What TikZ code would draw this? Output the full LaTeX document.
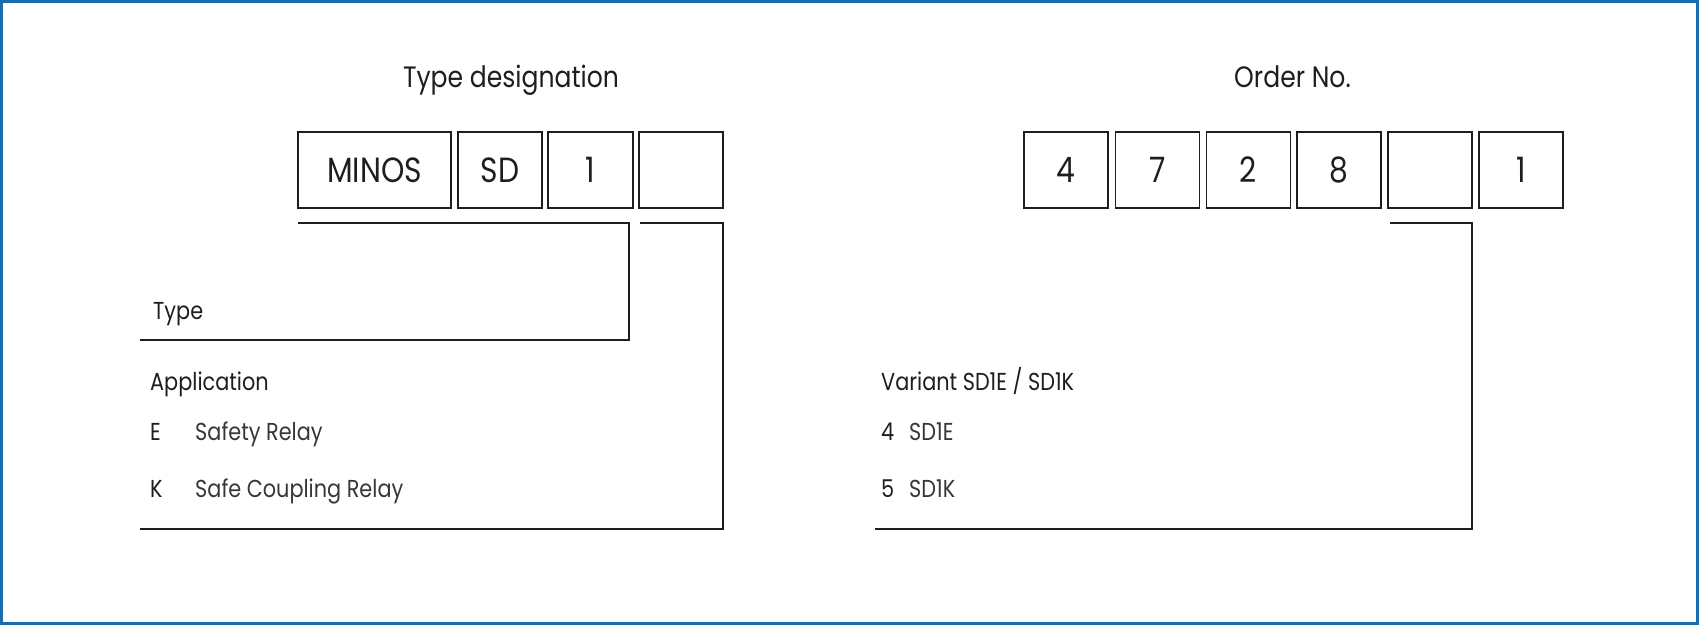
\documentclass[tikz,border=0pt]{standalone}
\usepackage{fontspec}
\setmainfont{Poppins}[FakeStretch=0.85]
\definecolor{framecol}{RGB}{28,108,172}
\definecolor{linecol}{RGB}{30,30,30}
\definecolor{desccol}{RGB}{55,55,55}
\newcommand{\headfont}{\fontsize{29.5}{34}\selectfont}
\newcommand{\lblfont}{\fontsize{24.5}{29}\selectfont}
\newcommand{\cellfont}{\fontsize{35}{40}\selectfont}
\tikzset{
  cell/.style={draw=linecol, line width=1.8pt, minimum height=76pt, minimum width=84pt, inner sep=0pt, font=\cellfont, text=linecol},
  lead/.style={draw=linecol, line width=1.8pt},
  lbl/.style={anchor=base west, inner sep=0pt, font=\lblfont, text=linecol},
  desc/.style={anchor=base west, inner sep=0pt, font=\lblfont, text=desccol},
  head/.style={anchor=base, inner sep=0pt, font=\headfont, text=linecol},
  frame/.style={draw=framecol, line width=3pt}
}
\begin{document}
\begin{tikzpicture}[x=1pt, y=-1pt]
\useasboundingbox (0,0) rectangle (1699,625);
\draw[frame] (1.5,1.5) rectangle (1697.5,623.5);

% headings
\node[head] (hType) at (511,87) {Type designation};
\node[head] (hOrder) at (1292.5,87) {Order No.};

% type designation cells
\node[cell, minimum width=153pt] (minos) at (374.5,170) {MINOS};
\node[cell] (sd) at (500,170) {SD};
\node[cell, minimum width=85pt] (one) at (590.5,170) {1};
\node[cell] (app) at (681,170) {};

% order number cells
\node[cell] (o1) at (1066,170) {4};
\node[cell] (o2) at (1157.5,170) {7};
\node[cell] (o3) at (1248.5,170) {2};
\node[cell] (o4) at (1339,170) {8};
\node[cell] (o5) at (1430,170) {};
\node[cell] (o6) at (1521,170) {1};

% labels
\node[lbl] (lType) at (153,319) {Type};
\node[lbl] (lApp) at (150,390) {Application};
\node[lbl] (lE) at (150,440) {E};
\node[desc] (dE) at (195,440) {Safety Relay};
\node[lbl] (lK) at (150,497) {K};
\node[desc] (dK) at (195,497) {Safe Coupling Relay};

\node[lbl] (lVar) at (881,390) {Variant SD1E / SD1K};
\node[lbl] (l4) at (881,440) {4};
\node[desc] (d4) at (909,440) {SD1E};
\node[lbl] (l5) at (881,497) {5};
\node[desc] (d5) at (909,497) {SD1K};

% bracket coordinates
\coordinate (a1) at (298,223);
\coordinate (a2) at (629,223);
\coordinate (a3) at (629,340);
\coordinate (a4) at (140,340);
\coordinate (b1) at (640,223);
\coordinate (b2) at (723,223);
\coordinate (b3) at (723,529);
\coordinate (b4) at (140,529);
\coordinate (c1) at (1390,223);
\coordinate (c2) at (1472,223);
\coordinate (c3) at (1472,529);
\coordinate (c4) at (875,529);

\draw[lead] (a1) -- (a2) -- (a3) -- (a4);
\draw[lead] (b1) -- (b2) -- (b3) -- (b4);
\draw[lead] (c1) -- (c2) -- (c3) -- (c4);
\end{tikzpicture}
\end{document}
